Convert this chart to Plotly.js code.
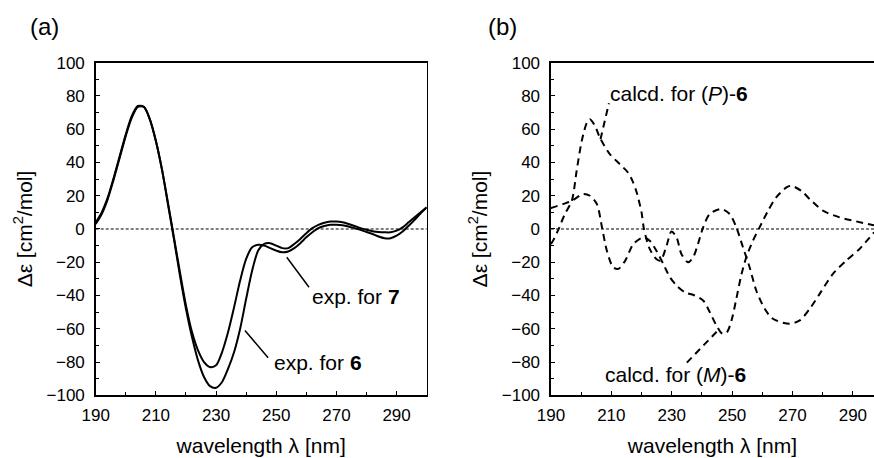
<!DOCTYPE html>
<html>
<head>
<meta charset="utf-8">
<script src="https://cdn.plot.ly/plotly-3.0.1.min.js"></script>
<style>html,body{margin:0;padding:0;background:#fff}#chart{width:874px;height:458px}</style>
</head>
<body>
<div id="chart"></div>
<script>
// ---- panel (a): experimental CD spectra ----
const expWl = [190,192,194,196,198,200,202,204,206,208,210,212,214,216,218,220,222,224,226,228,230,232,234,236,238,240,242,244,246,248,250,252,254,256,258,260,262,264,266,268,270,272,274,276,278,280,282,284,286,288,290,292,294,296,298,300];
const exp6  = [3,9,18,30,43,56,67,73.5,73.5,66,53,36,15,-6,-28,-48,-65,-79,-89,-94.5,-95.5,-92,-84,-74,-60,-42,-25,-13,-9,-8.5,-10,-11.5,-11.5,-9,-6,-2.5,0.5,2.5,3.8,4.5,4.5,4,3,1.8,0.5,-0.5,-1.3,-1.8,-2,-2,-1,1,4,7,10,13];
const exp7  = [4,10,19,31,44,57,68,74,73.5,66,53,36,16,-5,-26,-46,-62,-73,-80,-83,-82,-74,-62,-47,-31,-18,-11,-9.5,-10,-11.5,-13,-14,-13.5,-11.5,-8.5,-5,-2,0.5,1.8,2.5,2.5,2.2,1.5,0.5,-0.5,-1.8,-3,-4.5,-5.5,-5.5,-4,-1.5,2,5.5,9.5,13];

// ---- panel (b): calculated CD spectra ----
const calcPWl = [190,190.7,192.3,194.6,196.9,198.5,200.2,201.9,202.9,204.6,206.2,209.5,212.8,215.5,217,218.4,220,220.8,222.7,224.9,226.3,228.3,229.9,231.6,233.2,235.4,237.1,238.7,240.4,242.6,246.4,249.2,251.4,253.6,255.8,258,260.8,263.5,269,272.4,275.7,279,283.4,287.8,292.2,297];
const calcP   = [-9,-7,-1,9,17,35,53,64,66,62,55,45,39,34,29,22,10,0,-12,-18,-19,-10,-1.5,-5,-15,-20,-17,-9,1,9,12,9,1,-11,-23,-37,-48,-54,-57,-55,-48,-39,-27,-19,-12,-2];
const calcMWl = [190,190.7,194,197,200.6,202.9,205.2,206.9,208.5,210.6,212.3,214.6,217.3,220.6,222.7,224.9,227.2,229.4,231.6,234.3,237.6,240.4,242.6,244.8,246.8,248.3,249.8,251.4,253,254.7,256.9,259.1,261.9,264.6,268,269.6,272.9,275.7,280.1,285.6,291.1,297];
const calcM   = [12.5,13,15,17,21,20,15,1,-13,-23,-24,-19,-9,-5,-7,-13,-21,-29,-34,-38,-40,-43,-50,-58,-63,-62,-55,-42,-28,-17,-7,1,11,19,25,26,23,18,11,7,4.6,2.2];

// label anchor points (data units) and leader endpoints
const lbl7 = {text:'exp. for <b>7</b>', x:261.3, y:-40.5, lx:[253.5,260.9], ly:[-17,-35]};
const lbl6 = {text:'exp. for <b>6</b>', x:248.5, y:-80.5, lx:[239.6,247.3], ly:[-61,-77.5]};
const lblP = {text:'calcd. for (<i>P</i>)-<b>6</b>', x:209, y:81.4, lx:[206.4,209.2], ly:[54,75.6]};
const lblM = {text:'calcd. for (<i>M</i>)-<b>6</b>', x:207.3, y:-87.6, lx:[235,245.3], ly:[-80.4,-61]};

const FONT = 'Arial, "Liberation Sans", Helvetica, sans-serif';
const solid = {color:'#000', width:2, shape:'spline', smoothing:0.8};
const dashed = {color:'#000', width:2, dash:'7px,5px', shape:'spline', smoothing:0.8};

const traces = [
  {x:expWl, y:exp6, type:'scatter', mode:'lines', line:solid, xaxis:'x', yaxis:'y', name:'exp. for 6', hoverinfo:'x+y'},
  {x:expWl, y:exp7, type:'scatter', mode:'lines', line:solid, xaxis:'x', yaxis:'y', name:'exp. for 7', hoverinfo:'x+y'},
  {x:calcPWl, y:calcP, type:'scatter', mode:'lines', line:dashed, xaxis:'x2', yaxis:'y2', name:'calcd. for (P)-6', hoverinfo:'x+y'},
  {x:calcMWl, y:calcM, type:'scatter', mode:'lines', line:dashed, xaxis:'x2', yaxis:'y2', name:'calcd. for (M)-6', hoverinfo:'x+y'}
];

function xax(range, domain){
  return {domain:domain, range:range, tickmode:'array', tickvals:[190,210,230,250,270,290],
    ticks:'inside', ticklen:4, tickwidth:1, tickcolor:'#000',
    minor:{tickvals:[200,220,240,260,280,300], ticks:'inside', ticklen:3, tickcolor:'#000'},
    showline:true, linecolor:'#000', linewidth:1.5, mirror:true, showgrid:false, zeroline:false,
    tickfont:{family:FONT, size:17, color:'#000'}, ticklabelstandoff:4,
    title:{text:'wavelength λ [nm]', font:{family:FONT, size:21, color:'#000'}, standoff:14}};
}
function yax(domain, anchor){
  return {domain:domain, range:[-100,100], anchor:anchor, tickmode:'array', tickvals:[-100,-80,-60,-40,-20,0,20,40,60,80,100],
    ticks:'inside', ticklen:4, tickwidth:1, tickcolor:'#000',
    minor:{tickvals:[-90,-70,-50,-30,-10,10,30,50,70,90], ticks:'inside', ticklen:3, tickcolor:'#000'},
    showline:true, linecolor:'#000', linewidth:1.5, mirror:true, showgrid:false, zeroline:false,
    tickfont:{family:FONT, size:17, color:'#000'}, ticklabelstandoff:6,
    title:{text:'Δε [cm<sup>2</sup>/mol]', font:{family:FONT, size:21, color:'#000'}, standoff:8}};
}

const X1=[0.1095,0.4882], X2=[0.6304,1.0], Y=[0.137,0.863];
const layout = {
  width:874, height:458, margin:{l:0,r:0,t:0,b:0}, paper_bgcolor:'#fff', plot_bgcolor:'#fff',
  showlegend:false, font:{family:FONT, color:'#000'},
  xaxis: Object.assign(xax([190,300], X1), {anchor:'y'}),
  yaxis: yax(Y,'x'),
  xaxis2: Object.assign(xax([190,297], X2), {anchor:'y2'}),
  yaxis2: yax(Y,'x2'),
  shapes: [
    {type:'line', xref:'x domain', yref:'y', x0:0, x1:1, y0:0, y1:0, line:{color:'#000', width:1, dash:'3px,2px'}},
    {type:'line', xref:'x2 domain', yref:'y2', x0:0, x1:1, y0:0, y1:0, line:{color:'#000', width:1, dash:'3px,2px'}},
    {type:'line', xref:'x', yref:'y', x0:lbl7.lx[0], x1:lbl7.lx[1], y0:lbl7.ly[0], y1:lbl7.ly[1], line:{color:'#000', width:1.5}},
    {type:'line', xref:'x', yref:'y', x0:lbl6.lx[0], x1:lbl6.lx[1], y0:lbl6.ly[0], y1:lbl6.ly[1], line:{color:'#000', width:1.5}},
    {type:'line', xref:'x2', yref:'y2', x0:lblP.lx[0], x1:lblP.lx[1], y0:lblP.ly[0], y1:lblP.ly[1], line:{color:'#000', width:2, dash:'7px,5px'}},
    {type:'line', xref:'x2', yref:'y2', x0:lblM.lx[0], x1:lblM.lx[1], y0:lblM.ly[0], y1:lblM.ly[1], line:{color:'#000', width:2, dash:'7px,5px'}}
  ],
  annotations: [
    {text:'(a)', xref:'paper', yref:'paper', x:44.5/874, y:1-26/458, xanchor:'center', yanchor:'middle', showarrow:false, font:{family:FONT, size:24, color:'#000'}},
    {text:'(b)', xref:'paper', yref:'paper', x:502.5/874, y:1-26/458, xanchor:'center', yanchor:'middle', showarrow:false, font:{family:FONT, size:24, color:'#000'}},
    {text:lbl7.text, xref:'x', yref:'y', x:lbl7.x, y:lbl7.y, xanchor:'left', yanchor:'middle', showarrow:false, font:{family:FONT, size:21, color:'#000'}},
    {text:lbl6.text, xref:'x', yref:'y', x:lbl6.x, y:lbl6.y, xanchor:'left', yanchor:'middle', showarrow:false, font:{family:FONT, size:21, color:'#000'}},
    {text:lblP.text, xref:'x2', yref:'y2', x:lblP.x, y:lblP.y, xanchor:'left', yanchor:'middle', showarrow:false, font:{family:FONT, size:21, color:'#000'}},
    {text:lblM.text, xref:'x2', yref:'y2', x:lblM.x, y:lblM.y, xanchor:'left', yanchor:'middle', showarrow:false, font:{family:FONT, size:21, color:'#000'}}
  ]
};
Plotly.newPlot('chart', traces, layout, {staticPlot:true, displayModeBar:false});
</script>
</body>
</html>
